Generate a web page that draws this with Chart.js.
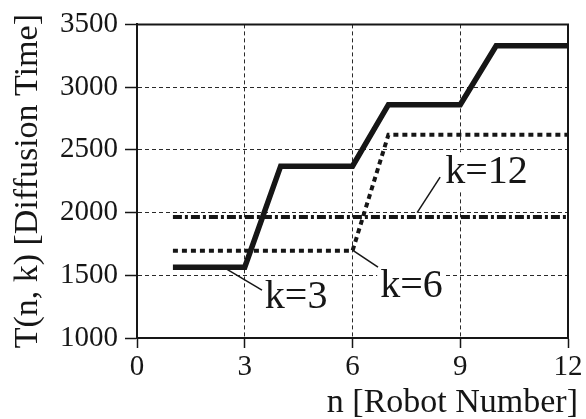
<!DOCTYPE html>
<html>
<head>
<meta charset="utf-8">
<script src="https://cdn.jsdelivr.net/npm/chart.js"></script>
<style>
    html, body { margin: 0; padding: 0; background: #fff; }
    canvas { display: block; }
</style>
</head>
<body>
<canvas id="chart" width="586" height="419"></canvas>
<script>
/* 데이터 */

// robot number on the x axis
var robotNumber = [1, 2, 3, 4, 5, 6, 7, 8, 9, 10, 11, 12];

// diffusion time for each k
var timeK3 = [1565, 1565, 1565, 2370, 2370, 2370, 2860, 2860, 2860, 3330, 3330, 3330];
var timeK6 = [1695, 1695, 1695, 1695, 1695, 1695, 2620, 2620, 2620, 2620, 2620, 2620];
var timeK12 = [1965, 1965, 1965, 1965, 1965, 1965, 1965, 1965, 1965, 1965, 1965, 1965];

var xTicks = [0, 3, 6, 9, 12];
var yTicks = [1000, 1500, 2000, 2500, 3000, 3500];

// curve labels (data units): leader start, leader end, text position
var labelText = ["k=3", "k=6", "k=12"];
var leaderFrom = [[2.45, 1557], [6.0, 1700], [7.8, 2000]];
var leaderTo = [[3.48, 1382], [6.71, 1565], [8.44, 2282]];
var labelAt = [[3.56, 1239], [6.77, 1326], [8.58, 2234]];

var serif = '"Liberation Serif", "Times New Roman", serif';
var ink = "#161616";

const toPoints = (ys) => robotNumber.map((n, i) => ({ x: n, y: ys[i] }));

/* 라벨 박스, 테두리, 라벨 */
var labelBox = function(chart, i) {
    var ctx = chart.ctx;
    ctx.font = "40px " + serif;
    var x = chart.scales.x.getPixelForValue(labelAt[i][0]);
    var y = chart.scales.y.getPixelForValue(labelAt[i][1]);
    var w = ctx.measureText(labelText[i]).width;
    return { x: x, y: y, w: w };
};

var decorations = {
    id: "decorations",
    beforeDatasetsDraw: function(chart) {
        var ctx = chart.ctx;
        ctx.save();
        ctx.fillStyle = "#fff";
        for (var i = 0; i < labelText.length; i++) {
            var b = labelBox(chart, i);
            ctx.fillRect(b.x - 3, b.y - 31, b.w + 6, 39);
        }
        ctx.restore();
    },
    afterDatasetsDraw: function(chart) {
        var ctx = chart.ctx;
        var a = chart.chartArea;
        var xs = chart.scales.x;
        var ys = chart.scales.y;
        ctx.save();

        // top and right frame
        ctx.strokeStyle = ink;
        ctx.lineWidth = 2;
        ctx.beginPath();
        ctx.moveTo(a.left, a.top);
        ctx.lineTo(a.right, a.top);
        ctx.lineTo(a.right, a.bottom);
        ctx.stroke();

        // leader lines and labels
        ctx.lineWidth = 1.5;
        ctx.fillStyle = ink;
        ctx.textAlign = "left";
        ctx.textBaseline = "alphabetic";
        for (var i = 0; i < labelText.length; i++) {
            ctx.beginPath();
            ctx.moveTo(xs.getPixelForValue(leaderFrom[i][0]), ys.getPixelForValue(leaderFrom[i][1]));
            ctx.lineTo(xs.getPixelForValue(leaderTo[i][0]), ys.getPixelForValue(leaderTo[i][1]));
            ctx.stroke();
            var b = labelBox(chart, i);
            ctx.fillText(labelText[i], b.x, b.y);
        }

        // x axis title
        ctx.font = "34px " + serif;
        ctx.textAlign = "right";
        ctx.fillText("n [Robot Number]", a.right + 10, chart.height - 7);
        ctx.restore();
    }
};

/* 차트 */
var ctx = document.getElementById("chart").getContext("2d");
window.theChart = new Chart(ctx, {
    type: "line",
    data: {
        datasets: [{
            label: "k=3",
            data: toPoints(timeK3),
            borderColor: ink,
            borderWidth: 5.5
        }, {
            label: "k=6",
            data: toPoints(timeK6),
            borderColor: ink,
            borderWidth: 4,
            borderDash: [5, 4]
        }, {
            label: "k=12",
            data: toPoints(timeK12),
            borderColor: ink,
            borderWidth: 4,
            borderDash: [9, 3, 3, 3]
        }]
    },
    options: {
        responsive: false,
        animation: false,
        layout: { padding: { left: 0, right: 18, top: 24, bottom: 0 } },
        elements: {
            point: { radius: 0 },
            line: { tension: 0, borderCapStyle: "butt", borderJoinStyle: "miter", fill: false }
        },
        plugins: {
            legend: { display: false },
            tooltip: { enabled: false }
        },
        scales: {
            x: {
                type: "linear",
                min: 0,
                max: 12,
                afterBuildTicks: function(axis) {
                    axis.ticks = xTicks.map(v => ({ value: v }));
                },
                afterFit: function(scale) {
                    scale.height = 81;
                },
                ticks: {
                    color: ink,
                    font: { family: serif, size: 29 },
                    padding: 2,
                    maxRotation: 0,
                    callback: v => String(v)
                },
                grid: {
                    color: "#2a2a2a",
                    lineWidth: 1,
                    tickColor: ink,
                    tickWidth: 1.5,
                    tickLength: 10,
                    tickBorderDash: []
                },
                border: { display: true, color: ink, width: 2, dash: [4, 3] }
            },
            y: {
                min: 1000,
                max: 3500,
                afterBuildTicks: function(axis) {
                    axis.ticks = yTicks.map(v => ({ value: v }));
                },
                afterFit: function(scale) {
                    scale.width = 137;
                },
                ticks: {
                    color: ink,
                    font: { family: serif, size: 29 },
                    padding: 7,
                    callback: v => String(v)
                },
                grid: {
                    color: "#2a2a2a",
                    lineWidth: 1,
                    tickColor: ink,
                    tickWidth: 1.5,
                    tickLength: 12,
                    tickBorderDash: []
                },
                border: { display: true, color: ink, width: 2, dash: [4, 3] },
                title: {
                    display: true,
                    text: "T(n, k) [Diffusion Time]",
                    color: ink,
                    font: { family: serif, size: 34 },
                    padding: { top: 8, bottom: 0 }
                }
            }
        }
    },
    plugins: [decorations]
});
</script>
</body>
</html>
